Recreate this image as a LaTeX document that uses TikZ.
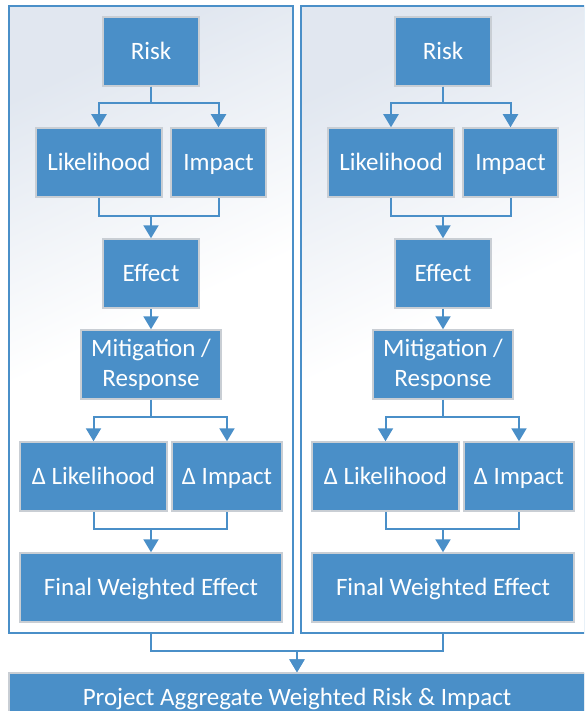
\documentclass[tikz,border=0pt]{standalone}
\usepackage{fontspec}
\setmainfont{Carlito}
\usetikzlibrary{arrows.meta,calc}
\definecolor{boxblue}{HTML}{4A8FC8}
\definecolor{boxedge}{HTML}{C9CED4}
\definecolor{panelgrad}{HTML}{E1E7F0}
\tikzset{
  box/.style={fill=boxblue, draw=boxedge, line width=1.5pt, text=white,
    font=\fontsize{25}{28}\selectfont, inner sep=0pt, minimum height=69pt},
  sline/.style={box, text height=16pt, text depth=0pt},
  panel/.style={draw=boxblue, line width=1.5pt, inner sep=0pt,
    top color=panelgrad, bottom color=white, middle color=white, shading angle=25},
  conn/.style={draw=boxblue, line width=2pt},
  arr/.style={conn, -{Triangle[width=15pt,length=13pt]}}
}
\begin{document}
\begin{tikzpicture}[x=1pt,y=-1pt]
\clip (0,0) rectangle (584,711);
\fill[white] (0,0) rectangle (584,711);
\foreach \dx/\p in {0/L,292/R}{
  \node[panel, minimum width=284pt, minimum height=627pt] (panel\p) at (151+\dx,319.5) {};
  \node[sline, minimum width=96pt] (risk\p) at (151+\dx,51.5) {Risk};
  \node[sline, minimum width=126pt] (lik\p) at (99+\dx,162.5) {Likelihood};
  \node[sline, minimum width=95pt] (imp\p) at (218.5+\dx,162.5) {Impact};
  \node[sline, minimum width=96pt] (eff\p) at (151+\dx,273.5) {Effect};
  \node[box, minimum width=140pt, align=center, font=\fontsize{25}{30}\selectfont] (mit\p) at (151+\dx,364.5) {Mitigation /\\Response};
  \node[sline, minimum width=147pt] (dlik\p) at (93.5+\dx,476.5) {Δ Likelihood};
  \node[sline, minimum width=110pt] (dimp\p) at (227+\dx,476.5) {Δ Impact};
  \node[sline, minimum width=262pt] (fin\p) at (151+\dx,587.5) {Final Weighted Effect};
  \draw[arr] (risk\p.south) -- ++(0,16) -| (lik\p.north);
  \draw[arr] (risk\p.south) -- ++(0,16) -| (imp\p.north);
  \coordinate (j1\p) at ($(lik\p.south)+(0,18)$);
  \draw[conn] (lik\p.south) -- (j1\p) -| (imp\p.south);
  \draw[arr] (j1\p -| eff\p.north) -- (eff\p.north);
  \draw[arr] (eff\p.south) -- (mit\p.north);
  \draw[arr] (mit\p.south) -- ++(0,17) -| (dlik\p.north);
  \draw[arr] (mit\p.south) -- ++(0,17) -| (dimp\p.north);
  \coordinate (j2\p) at ($(dlik\p.south)+(0,17)$);
  \draw[conn] (dlik\p.south) -- (j2\p) -| (dimp\p.south);
  \draw[arr] (j2\p -| fin\p.north) -- (fin\p.north);
}
\node[sline, minimum width=576pt, minimum height=48pt] (agg) at (297,697) {Project Aggregate Weighted Risk \& Impact};
\draw[arr] (panelL.south) -- ++(0,17) -| (agg.north);
\draw[arr] (panelR.south) -- ++(0,17) -| (agg.north);
\end{tikzpicture}
\end{document}
